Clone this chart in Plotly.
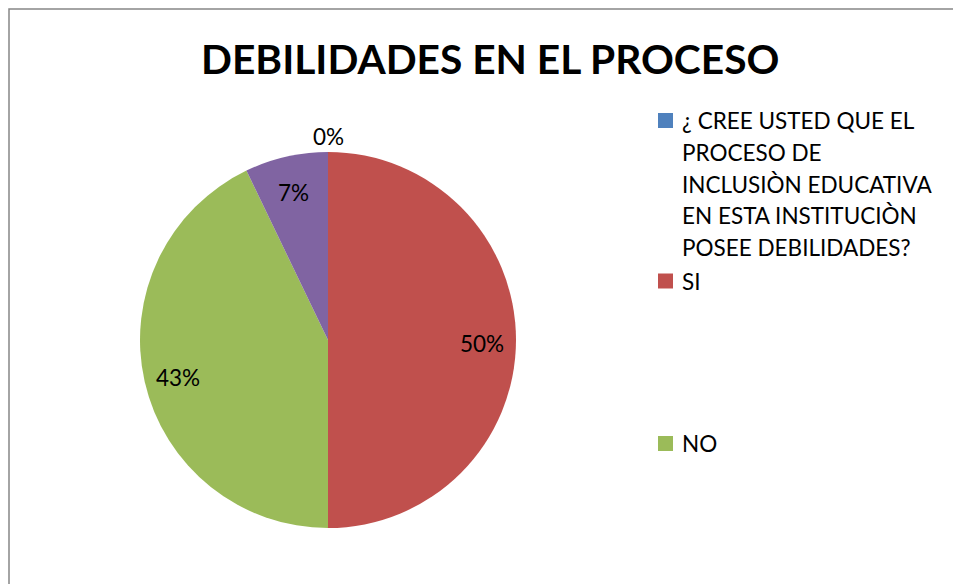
import math
import plotly.graph_objects as go

labels = ["¿ CREE USTED QUE EL PROCESO DE INCLUSIÒN EDUCATIVA EN ESTA INSTITUCIÒN POSEE DEBILIDADES?", "SI", "NO", ""]
legend_lines = [["¿ CREE USTED QUE EL", "PROCESO DE", "INCLUSIÒN EDUCATIVA", "EN ESTA INSTITUCIÒN", "POSEE DEBILIDADES?"], ["SI"], ["NO"]]
values = [0, 7, 6, 1]
colors = ["#4F81BD", "#C0504D", "#9BBB59", "#8064A2"]
title = "DEBILIDADES EN EL PROCESO"

W, H = 961, 584
OFF = 8  # page body margin
cx, cy, r = 328 - OFF, 340 - OFF, 188
FONT = "Lato"
FS = 22.5


def px2paper(x, y):
    return x / W, 1 - y / H


fig = go.Figure()
fig.add_trace(go.Pie(
    labels=labels, values=values, sort=False, direction="clockwise", rotation=0,
    marker=dict(colors=colors, line=dict(width=0)),
    textinfo="none", showlegend=False, hoverinfo="label+percent",
    domain=dict(x=[(cx - r) / W, (cx + r) / W], y=[1 - (cy + r) / H, 1 - (cy - r) / H]),
))

total = sum(values)
ann = []
cum = 0
for v in values:
    theta = math.radians(360 * (cum + v / 2) / total)
    f = 1.1 if v == 0 else 0.82
    ax, ay = px2paper(cx + r * f * math.sin(theta), cy - r * f * math.cos(theta) + 3)
    ann.append(dict(x=ax, y=ay, xref="paper", yref="paper", xanchor="center", yanchor="middle",
                    text=f"{round(100 * v / total)}%", showarrow=False,
                    font=dict(family=FONT, size=FS, color="black")))
    cum += v

tx, ty = px2paper(490 - OFF, 58 - OFF)
ann.append(dict(x=tx, y=ty, xref="paper", yref="paper", xanchor="center", yanchor="middle",
                text=f"<b>{title}</b>", showarrow=False,
                font=dict(family=FONT, size=40.7, color="black")))

shapes = [dict(type="rect", xref="paper", yref="paper", x0=(9 - OFF) / W, y0=-0.05, x1=1.05,
               y1=1 - (9 - OFF) / H, line=dict(color="#868686", width=1.5),
               fillcolor="rgba(0,0,0,0)")]

legend_y = [120.5, 281, 443.5]
line_gap = 31.8
for i, (lines, ly) in enumerate(zip(legend_lines, legend_y)):
    ly -= OFF
    shapes.append(dict(type="rect", xref="paper", yref="paper",
                       x0=(658 - OFF) / W, x1=(673 - OFF) / W,
                       y0=1 - (ly + 7.5) / H, y1=1 - (ly - 7.5) / H,
                       fillcolor=colors[i], line=dict(width=0)))
    for k, t in enumerate(lines):
        lx, lyy = px2paper(680 - OFF, ly + k * line_gap)
        ann.append(dict(x=lx, y=lyy, xref="paper", yref="paper", text=t,
                        showarrow=False, xanchor="left", yanchor="middle", align="left",
                        font=dict(family=FONT, size=FS, color="black")))

fig.update_layout(width=W, height=H, margin=dict(l=0, r=0, t=0, b=0),
                  paper_bgcolor="white", plot_bgcolor="white",
                  annotations=ann, shapes=shapes)
fig.write_html("out.html")
